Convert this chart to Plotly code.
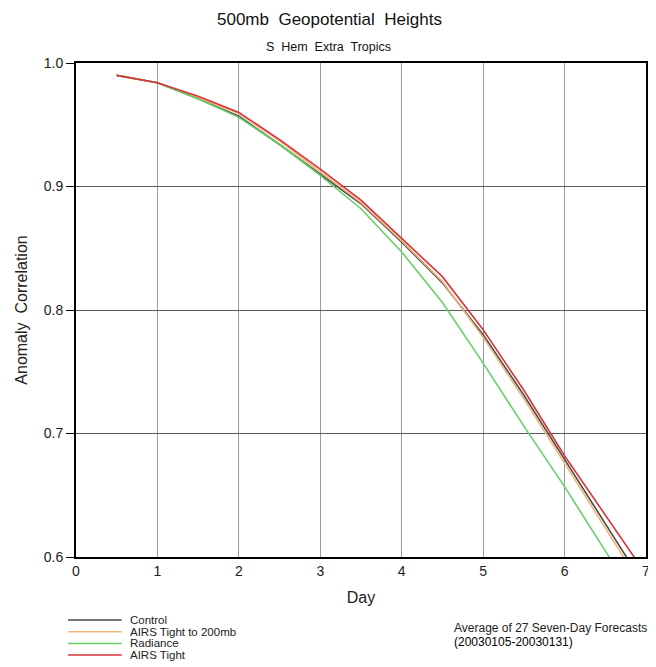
import plotly.graph_objects as go

days = [0.5, 1.0, 1.5, 2.0, 2.5, 3.0, 3.5, 4.0, 4.5, 5.0, 5.5, 6.0, 6.5, 7.0]
control = [0.990, 0.984, 0.971, 0.957, 0.934, 0.910, 0.886, 0.855, 0.822, 0.780, 0.731, 0.679, 0.627, 0.575]
airs_200mb = [0.990, 0.984, 0.972, 0.959, 0.937, 0.912, 0.887, 0.856, 0.823, 0.778, 0.728, 0.676, 0.623, 0.571]
radiance = [0.990, 0.984, 0.971, 0.956, 0.934, 0.909, 0.882, 0.847, 0.806, 0.757, 0.706, 0.657, 0.605, 0.553]
airs_tight = [0.990, 0.984, 0.973, 0.960, 0.938, 0.914, 0.889, 0.858, 0.827, 0.784, 0.735, 0.682, 0.634, 0.586]

series_names = ["Control", "AIRS Tight to 200mb", "Radiance", "AIRS Tight"]
series_values = [control, airs_200mb, radiance, airs_tight]
series_colors = ["#4a4a4a", "#f0b478", "#66d066", "#d8343c"]

x_ticks = [0, 1, 2, 3, 4, 5, 6, 7]
y_ticks = [0.6, 0.7, 0.8, 0.9, 1.0]
y_tick_labels = ["0.6", "0.7", "0.8", "0.9", "1.0"]

FONT = "Liberation Sans, Arial, sans-serif"

# page body has an 8px margin; figure sized so plot area lands where the reference has it
W, H = 648, 659
ML, MR, MT, MB = 68, 6, 55, 110
PW, PH = W - ML - MR, H - MT - MB


def px(xs):  # screen x -> paper x
    return (xs - 8 - ML) / PW


def py(ys):  # screen y -> paper y
    return (H - MB - (ys - 8)) / PH


fig = go.Figure()
for name, vals, col in zip(series_names, series_values, series_colors):
    fig.add_trace(go.Scatter(x=days, y=vals, mode="lines", name=name,
                             line=dict(color=col, width=1.6), showlegend=False))

fig.update_layout(
    width=W, height=H,
    paper_bgcolor="white", plot_bgcolor="white",
    margin=dict(l=ML, r=MR, t=MT, b=MB),
    font=dict(family=FONT, color="#222"),
    showlegend=False,
)
fig.update_xaxes(range=[0, 7], tickvals=x_ticks, ticktext=[str(t) for t in x_ticks],
                 showgrid=True, gridcolor="#9a9a9a", gridwidth=1,
                 showline=True, linecolor="black", linewidth=2, mirror=True,
                 ticks="", tickfont=dict(size=14), zeroline=False,
                 title=dict(text="Day", font=dict(size=16), standoff=14))
fig.update_yaxes(range=[0.6, 1.0], tickvals=y_ticks, ticktext=y_tick_labels,
                 showgrid=True, gridcolor="#5a5a5a", gridwidth=1,
                 showline=True, linecolor="black", linewidth=2, mirror=True,
                 ticks="outside", ticklen=8, tickcolor="black", tickfont=dict(size=14),
                 zeroline=False,
                 title=dict(text="Anomaly  Correlation", font=dict(size=16), standoff=12))

fig.add_annotation(text="500mb  Geopotential  Heights", xref="paper", yref="paper",
                   x=px(331), y=py(20), xanchor="center", yanchor="middle", showarrow=False,
                   font=dict(size=17, family=FONT, color="#111"))
fig.add_annotation(text="S  Hem  Extra  Tropics", xref="paper", yref="paper",
                   x=px(330), y=py(47), xanchor="center", yanchor="middle", showarrow=False,
                   font=dict(size=12.5, family=FONT, color="#111"))

# legend (drawn as shapes + text for compact spacing)
leg_y0 = 620
leg_dy = 11.7
for i, (name, col) in enumerate(zip(series_names, series_colors)):
    yy = leg_y0 + i * leg_dy
    fig.add_shape(type="line", xref="paper", yref="paper",
                  x0=px(68), x1=px(122), y0=py(yy), y1=py(yy),
                  line=dict(color=col, width=1.5))
    fig.add_annotation(text=name, xref="paper", yref="paper",
                       x=px(128), y=py(yy), xanchor="left",
                       yanchor="middle", showarrow=False,
                       font=dict(size=11.5, family=FONT, color="#222"))

fig.add_annotation(text="Average of 27 Seven-Day Forecasts", xref="paper", yref="paper",
                   x=px(455), y=py(628), xanchor="left", yanchor="middle",
                   showarrow=False, font=dict(size=12, family=FONT, color="#222"))
fig.add_annotation(text="(20030105-20030131)", xref="paper", yref="paper",
                   x=px(455), y=py(642), xanchor="left", yanchor="middle",
                   showarrow=False, font=dict(size=12, family=FONT, color="#000"))

fig.write_html("out.html")
